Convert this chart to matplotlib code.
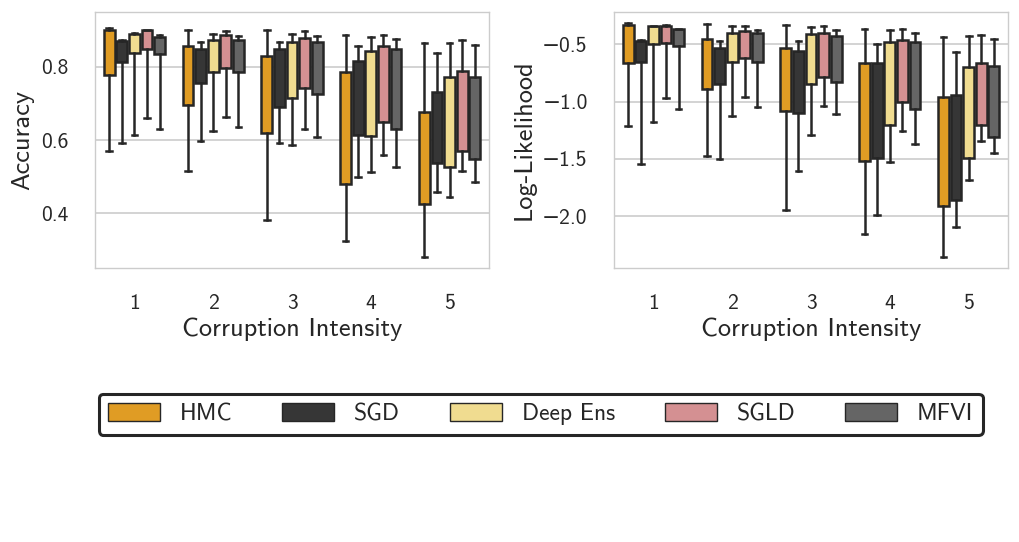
import matplotlib
matplotlib.use('Agg')
import matplotlib.pyplot as plt
from matplotlib.patches import Patch
import numpy as np

plt.rcParams['font.family'] = ['cmss10', 'DejaVu Sans']
plt.rcParams['axes.unicode_minus'] = True
plt.rcParams['axes.formatter.use_mathtext'] = True
plt.rcParams['text.color'] = '.15'
plt.rcParams['axes.labelcolor'] = '.15'
plt.rcParams['xtick.color'] = '.15'
plt.rcParams['ytick.color'] = '.15'

methods = ['HMC', 'SGD', 'Deep Ens', 'SGLD', 'MFVI']
colors = ['#e09c24', '#363636', '#f0dc90', '#d49092', '#656565']
intensity = [1, 2, 3, 4, 5]

# accuracy: rows = methods, cols = intensity 1..5
acc_lo = [[0.571, 0.514, 0.381, 0.323, 0.281],
          [0.593, 0.596, 0.592, 0.498, 0.458],
          [0.613, 0.624, 0.586, 0.512, 0.444],
          [0.660, 0.664, 0.629, 0.559, 0.516],
          [0.629, 0.636, 0.609, 0.527, 0.486]]
acc_q1 = [[0.777, 0.697, 0.620, 0.480, 0.425],
          [0.814, 0.757, 0.689, 0.613, 0.538],
          [0.838, 0.786, 0.716, 0.612, 0.525],
          [0.848, 0.796, 0.741, 0.648, 0.571],
          [0.834, 0.786, 0.725, 0.630, 0.548]]
acc_q3 = [[0.900, 0.858, 0.829, 0.786, 0.677],
          [0.871, 0.850, 0.848, 0.816, 0.732],
          [0.889, 0.873, 0.868, 0.844, 0.773],
          [0.900, 0.887, 0.878, 0.858, 0.788],
          [0.882, 0.873, 0.868, 0.850, 0.771]]
acc_hi = [[0.907, 0.900, 0.902, 0.888, 0.864],
          [0.873, 0.868, 0.867, 0.857, 0.839],
          [0.893, 0.891, 0.891, 0.882, 0.866],
          [0.902, 0.898, 0.898, 0.888, 0.873],
          [0.887, 0.884, 0.884, 0.875, 0.861]]

# log-likelihood
ll_lo = [[-1.209, -1.470, -1.946, -2.152, -2.350],
         [-1.546, -1.499, -1.604, -1.987, -2.089],
         [-1.177, -1.130, -1.290, -1.525, -1.685],
         [-0.971, -0.962, -1.038, -1.255, -1.342],
         [-1.069, -1.043, -1.110, -1.371, -1.450]]
ll_q1 = [[-0.666, -0.889, -1.078, -1.522, -1.909],
         [-0.657, -0.846, -1.101, -1.493, -1.856],
         [-0.497, -0.657, -0.849, -1.203, -1.493],
         [-0.486, -0.622, -0.788, -1.000, -1.203],
         [-0.515, -0.651, -0.826, -1.067, -1.305]]
ll_q3 = [[-0.332, -0.457, -0.529, -0.660, -0.956],
         [-0.471, -0.535, -0.556, -0.660, -0.942],
         [-0.346, -0.401, -0.413, -0.483, -0.695],
         [-0.338, -0.384, -0.404, -0.463, -0.666],
         [-0.364, -0.404, -0.425, -0.477, -0.686]]
ll_hi = [[-0.317, -0.326, -0.332, -0.367, -0.434],
         [-0.463, -0.471, -0.468, -0.497, -0.564],
         [-0.341, -0.346, -0.352, -0.375, -0.425],
         [-0.332, -0.338, -0.341, -0.364, -0.416],
         [-0.367, -0.375, -0.375, -0.401, -0.451]]


def draw(ax, lo, q1, q3, hi):
    n = len(methods)
    w = 0.16
    for i in range(n):
        stats = []
        for j in range(len(intensity)):
            stats.append(dict(whislo=lo[i][j], q1=q1[i][j], med=q3[i][j],
                              q3=q3[i][j], whishi=hi[i][j], fliers=[]))
        pos = [x + (i - (n - 1) / 2) * w for x in intensity]
        ax.bxp(stats, positions=pos, widths=w * 0.86, patch_artist=True,
               showfliers=False, capwidths=w * 0.45,
               boxprops=dict(facecolor=colors[i], edgecolor='#262626', linewidth=1.8),
               whiskerprops=dict(color='#262626', linewidth=1.8),
               capprops=dict(color='#262626', linewidth=1.8),
               medianprops=dict(visible=False), manage_ticks=False)
    ax.set_xlim(0.5, 5.5)
    ax.set_xticks(intensity)
    ax.set_xticklabels([str(x) for x in intensity])
    ax.tick_params(axis='both', length=0, labelsize=15.5, pad=19)
    ax.tick_params(axis='x', pad=19)
    ax.set_axisbelow(True)
    ax.yaxis.grid(True, color='#cccccc', linewidth=1.2)
    for s in ax.spines.values():
        s.set_color('#cccccc')
        s.set_linewidth(1.0)
    ax.set_xlabel('Corruption Intensity', fontsize=19, labelpad=3)


fig = plt.figure(figsize=(10.2, 5.42), dpi=100)
ax1 = fig.add_axes([0.0931, 0.5055, 0.3863, 0.4723])
ax2 = fig.add_axes([0.602, 0.5055, 0.3863, 0.4723])

draw(ax1, acc_lo, acc_q1, acc_q3, acc_hi)
ax1.set_ylim(0.25, 0.95)
ax1.set_yticks([0.4, 0.6, 0.8])
ax1.set_yticklabels(['0.4', '0.6', '0.8'])
ax1.set_ylabel('Accuracy', fontsize=19, labelpad=5)

draw(ax2, ll_lo, ll_q1, ll_q3, ll_hi)
ax2.set_ylim(-2.45, -0.22)
ax2.set_yticks([-2.0, -1.5, -1.0, -0.5])
ax2.set_yticklabels(['\u22122.0', '\u22121.5', '\u22121.0', '\u22120.5'])
ax2.set_ylabel('Log-Likelihood', fontsize=19, labelpad=5)

handles = [Patch(facecolor=c, edgecolor='#262626', linewidth=1.0) for c in colors]
leg = fig.legend(handles, methods, loc='center', bbox_to_anchor=(0.530, 0.236),
                 ncol=5, fontsize=17, frameon=True, fancybox=True, framealpha=1,
                 handlelength=2.2, handleheight=0.75, handletextpad=0.85,
                 columnspacing=2.1, borderpad=0.4)
leg.get_frame().set_edgecolor('#262626')
leg.get_frame().set_linewidth(2.2)

plt.savefig('out.png', dpi=100)
